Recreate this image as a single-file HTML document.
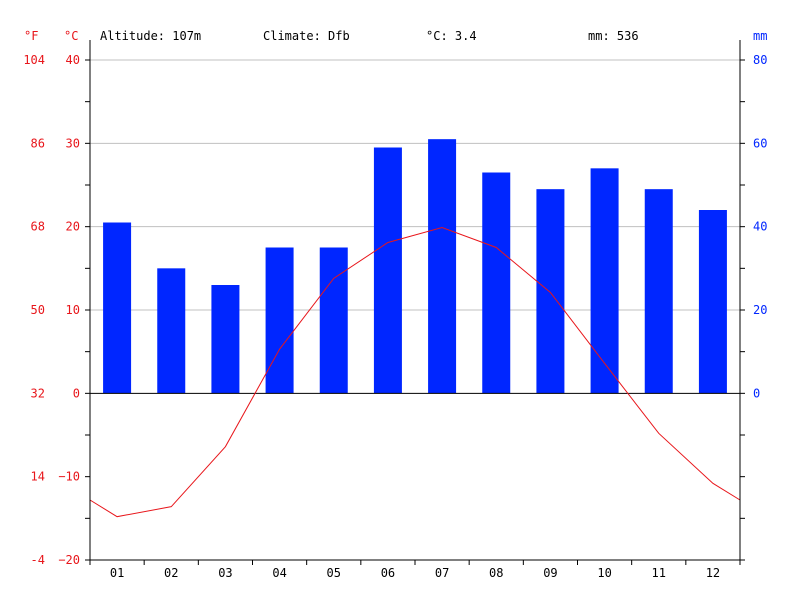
<!DOCTYPE html>
<html><head><meta charset="utf-8"><style>body{margin:0;background:#fff}svg{display:block;font-family:"DejaVu Sans Mono","Liberation Mono",monospace;font-size:12px}</style></head>
<body>
<svg id="chart" width="800" height="600" xmlns="http://www.w3.org/2000/svg"></svg>
<script>
const months=["01","02","03","04","05","06","07","08","09","10","11","12"];
const precip=[41,30,26,35,35,59,61,53,49,54,49,44];
const temps=[-14.8,-13.6,-6.4,5.3,13.8,18.1,19.9,17.5,12.1,3.6,-4.8,-10.8];
const cTicks=[40,30,20,10,0,-10,-20];
const fTicks=["104","86","68","50","32","14","-4"];
const mmTicks=[80,60,40,20,0];
const NS="http://www.w3.org/2000/svg";
const svg=document.getElementById("chart");
const X0=90,X1=740,Y0=60,Y1=560;
const slot=(X1-X0)/12;
function yC(c){return Y0+(40-c)*(Y1-Y0)/60;}
function yMM(m){return yC(m/2);}
function xM(i){return X0+slot*(i+0.5);}
function add(tag,attrs,txt){const e=document.createElementNS(NS,tag);for(const k in attrs)e.setAttribute(k,attrs[k]);if(txt!==undefined)e.textContent=txt;svg.appendChild(e);return e;}
// gridlines
cTicks.forEach(c=>{if(c>0){const g=add("line",{x1:X0,x2:X1,y1:yC(c),y2:yC(c),stroke:"#c0c0c0","stroke-width":1});

}});
// bars
precip.forEach((v,i)=>{const b=add("rect",{x:xM(i)-14,y:yMM(v),width:28,height:yMM(0)-yMM(v),fill:"#0026ff"});

});
// zero line
const z=add("line",{x1:X0,x2:X1,y1:yC(0),y2:yC(0),stroke:"#000","stroke-width":1});


// temperature line
const edge=(temps[0]+temps[11])/2;
let pts=[[X0,yC(edge)]];
temps.forEach((t,i)=>pts.push([xM(i),yC(t)]));
pts.push([X1,yC(edge)]);
const tl=add("polyline",{points:pts.map(p=>p.join(",")).join(" "),fill:"none",stroke:"#e8161b","stroke-width":1});


// axes
const la=add("line",{x1:X0,x2:X0,y1:40,y2:Y1,stroke:"#000"});


const ra=add("line",{x1:X1,x2:X1,y1:40,y2:Y1,stroke:"#000"});


const ba=add("line",{x1:X0,x2:X1,y1:Y1,y2:Y1,stroke:"#000"});


for(let c=40;c>=-20;c-=5){add("line",{x1:X0-5,x2:X0,y1:yC(c),y2:yC(c),stroke:"#000"});add("line",{x1:X1,x2:X1+5,y1:yC(c),y2:yC(c),stroke:"#000"});}
for(let i=0;i<=12;i++)add("line",{x1:X0+slot*i,x2:X0+slot*i,y1:Y1,y2:Y1+5,stroke:"#000"});
// labels
cTicks.forEach((c,i)=>{const t=add("text",{x:80,y:yC(c)+4,"text-anchor":"end",fill:"#e8161b"},String(c).replace("-","−"));


const f=add("text",{x:45,y:yC(c)+4,"text-anchor":"end",fill:"#e8161b"},fTicks[i]);

});
mmTicks.forEach(m=>{const t=add("text",{x:753,y:yMM(m)+4,fill:"#0026ff"},String(m));

});
months.forEach((m,i)=>{const t=add("text",{x:xM(i),y:577,"text-anchor":"middle",fill:"#000"},m);

});
const hdr=[["°F",24,"#e8161b"],["°C",64,"#e8161b"],["Altitude: 107m",100,"#000"],["Climate: Dfb",263,"#000"],["°C: 3.4",426,"#000"],["mm: 536",588,"#000"],["mm",753,"#0026ff"]];
hdr.forEach(h=>{const t=add("text",{x:h[1],y:40,fill:h[2]},h[0]);

});
</script>
</body></html>
